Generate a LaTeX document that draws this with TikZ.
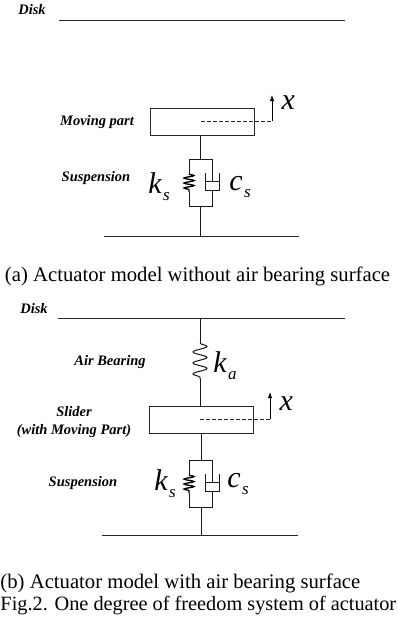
\documentclass[tikz,border=0pt]{standalone}
\usepackage{fontspec}
\setmainfont{Liberation Serif}
\usepackage{tikz}
\usetikzlibrary{arrows.meta,positioning,decorations.pathmorphing}

\newcommand{\symlabel}[2]{{\fontsize{30}{30}\selectfont\itshape #1}\kern1.5pt\raisebox{-7pt}{\fontsize{17}{17}\selectfont\itshape #2}}

\begin{document}
\begin{tikzpicture}[
    x=1pt, y=-1pt,
    every node/.style={inner sep=0pt, outer sep=0pt},
    tag/.style={font=\fontsize{14.5}{17}\selectfont\bfseries\itshape, align=center},
    caption/.style={font=\fontsize{20.7}{22}\selectfont, anchor=base west},
    caption fit/.style={font=\fontsize{20.3}{22}\selectfont, anchor=base west},
    body/.style={draw=black!85, line width=0.9pt, minimum width=104pt, minimum height=27pt},
    wire/.style={line width=1pt, black!90},
    surface/.style={line width=1pt, black!85},
    spring/.style={line width=1.3pt, black, decorate,
      decoration={snake, segment length=5pt, amplitude=5pt}},
    airspring/.style={line width=1pt, black!90, decorate,
      decoration={snake, segment length=11pt, amplitude=7pt}},
    motion/.style={dash pattern=on 3.5pt off 2.5pt, line width=0.8pt, black!85},
    arrow/.style={-{Latex[length=6pt,width=4.5pt]}, line width=1pt, black}
  ]
    \useasboundingbox (0,0) rectangle (398,622);

    \node[tag] (disk1) at (32,10) {Disk};
    \coordinate (disk1l) at (59,20);
    \coordinate (disk1r) at (345,20);
    \draw[surface] (disk1l) -- (disk1r);

    \node[body] (moving) at (202,122) {};
    \node[tag] (movinglabel) at (97,122) {Moving part};
    \coordinate (dash1a) at (201,121);
    \coordinate (dash1b) at (272,121);
    \coordinate (tip1) at (272,95);
    \node (x1) at (289,106) {\symlabel{x}{}};
    \draw[motion] (dash1a) -- (dash1b);
    \draw[arrow] (dash1b) -- (tip1);

    \coordinate (top1) at (200,159);
    \coordinate (bot1) at (200,206);
    \coordinate (ground1) at (200,236);
    \coordinate (ground1l) at (104,236);
    \coordinate (ground1r) at (299,236);
    \draw[wire] (top1) -- (top1 |- moving.south);
    \draw[wire] (189,174) -- (189,159) -- (212,159) -- (212,181);
    \draw[wire] (189,192) -- (189,206) -- (212,206) -- (212,190);
    \draw[spring] (189,174) -- (189,192);
    \draw[wire] (205,173) -- (205,190) -- (219,190) -- (219,173);
    \draw[wire] (205,181) -- (219,181);
    \draw[wire] (bot1) -- (ground1);
    \draw[surface] (ground1l) -- (ground1r);
    \node[tag] (susp1) at (96,178) {Suspension};
    \node (ks1) at (159,187) {\symlabel{k}{s}};
    \node (cs1) at (240,187) {\symlabel{c}{s}};

    \node[caption] (cap1) at (5,281) {(a) Actuator model without air bearing surface};

    \node[tag] (disk2) at (34,309) {Disk};
    \coordinate (disk2l) at (58,318);
    \coordinate (disk2r) at (345,318);
    \draw[surface] (disk2l) -- (disk2r);

    \node[body] (slider) at (201,420) {};
    \node[tag] (airlabel) at (110,362) {Air Bearing};
    \node[tag] (sliderlabel) at (74,422.5) {Slider\\[1pt](with Moving Part)};
    \coordinate (air2) at (200,318);
    \coordinate (air2a) at (200,343);
    \coordinate (air2b) at (200,379);
    \draw[wire] (air2) -- (air2a);
    \draw[airspring] (air2a) -- (air2b);
    \draw[wire] (air2b) -- (air2b |- slider.north);
    \node (ka) at (225,366) {\symlabel{k}{a}};

    \coordinate (dash2a) at (200,419);
    \coordinate (dash2b) at (270,419);
    \coordinate (tip2) at (270,392);
    \node (x2) at (287,407) {\symlabel{x}{}};
    \draw[motion] (dash2a) -- (dash2b);
    \draw[arrow] (dash2b) -- (tip2);

    \coordinate (top2) at (201,460);
    \coordinate (bot2) at (201,507);
    \coordinate (ground2) at (201,535);
    \coordinate (ground2l) at (102,535);
    \coordinate (ground2r) at (298,535);
    \draw[wire] (top2) -- (top2 |- slider.south);
    \draw[wire] (189,475) -- (189,460) -- (212,460) -- (212,482);
    \draw[wire] (189,493) -- (189,507) -- (212,507) -- (212,491);
    \draw[spring] (189,475) -- (189,493);
    \draw[wire] (205,474) -- (205,491) -- (219,491) -- (219,474);
    \draw[wire] (205,482) -- (219,482);
    \draw[wire] (bot2) -- (ground2);
    \draw[surface] (ground2l) -- (ground2r);
    \node[tag] (susp2) at (83,483) {Suspension};
    \node (ks2) at (165,484) {\symlabel{k}{s}};
    \node (cs2) at (238,484) {\symlabel{c}{s}};

    \node[caption] (cap2) at (0.5,588) {(b) Actuator model with air bearing surface};
    \node[caption fit] (cap3) at (0.5,610) {Fig.2. One degree of freedom system of actuator};
\end{tikzpicture}
\end{document}
